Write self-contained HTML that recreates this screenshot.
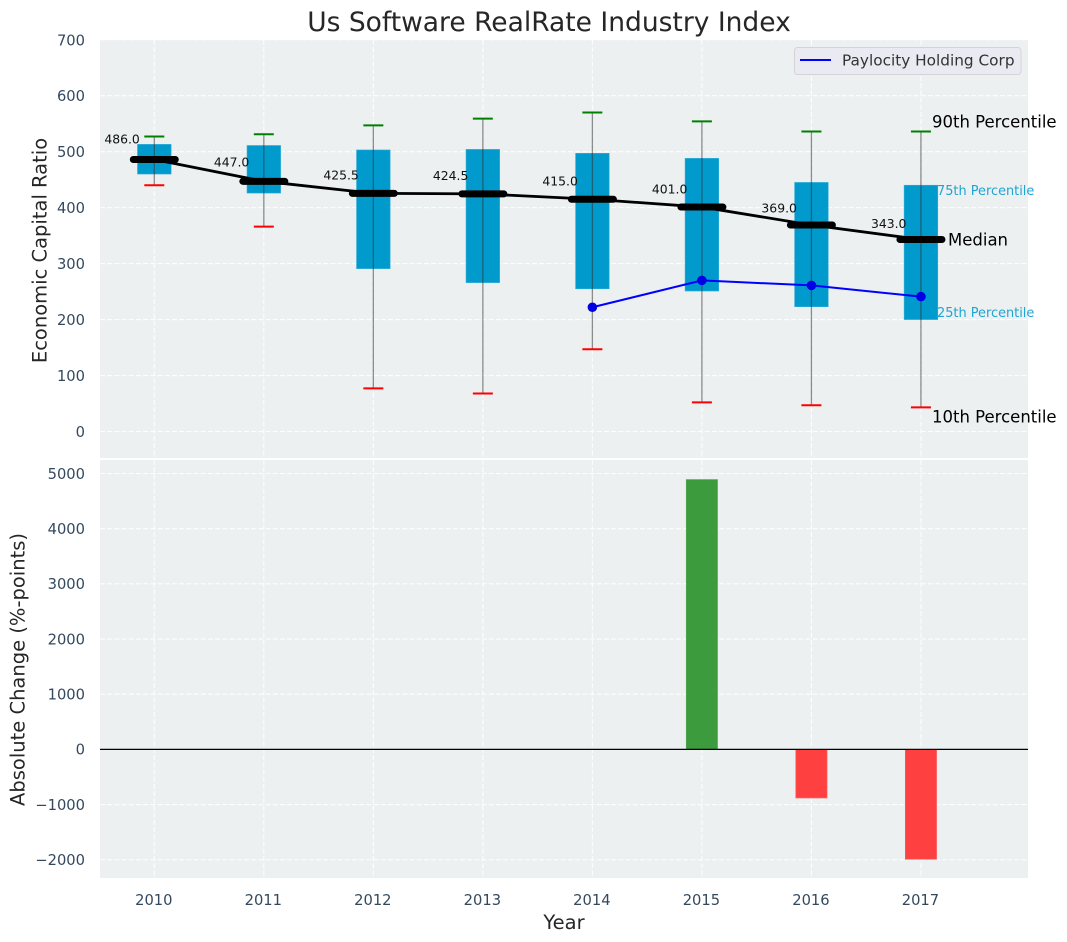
<!DOCTYPE html>
<html>
<head>
<meta charset="utf-8">
<title>Us Software RealRate Industry Index</title>
<style>
html,body{margin:0;padding:0;background:#fff;}
svg{display:block;font-family:"DejaVu Sans","Liberation Sans",sans-serif;}
</style>
</head>
<body>
<svg id="chart" width="1067" height="942" viewBox="0 0 1067 942" xmlns="http://www.w3.org/2000/svg"></svg>
<script>
const years = [2010, 2011, 2012, 2013, 2014, 2015, 2016, 2017];
const p90 = [527, 531, 547, 559, 570, 554, 536, 536];
const p75 = [513, 511, 503, 504, 497, 488, 445, 440];
const median = [486, 447, 425.5, 424.5, 415, 401, 369, 343];
const p25 = [460, 426, 291, 266, 255, 251, 223, 200];
const p10 = [440, 366, 77, 68, 147, 52, 47, 43];
const companyYears = [2014, 2015, 2016, 2017];
const companyValues = [222, 270, 261, 241];
const changeYears = [2015, 2016, 2017];
const changeValues = [4890, -880, -1990];
const topTicks = [0, 100, 200, 300, 400, 500, 600, 700];
const bottomTicks = [-2000, -1000, 0, 1000, 2000, 3000, 4000, 5000];

const svg = document.getElementById('chart');
const NS = 'http://www.w3.org/2000/svg';
function add(tag, attrs, text, parent) {
  const el = document.createElementNS(NS, tag);
  for (const k in attrs) el.setAttribute(k, attrs[k]);
  if (text !== undefined && text !== null) el.textContent = text;
  (parent || svg).appendChild(el);
  return el;
}
function x(year) { return 154.3 + (year - 2010) * 109.52; }
function yTop(v) { return 431.5 - v * 0.5597; }
function yBot(v) { return 749.4 - v * 0.05518; }

const INK = '#34495e';
const AX_L = 100, AX_R = 1028;

/* panels */
const topPanel = add('rect', {x: AX_L, y: 40, width: AX_R - AX_L, height: 418, fill: '#ecf0f1'});


const botPanel = add('rect', {x: AX_L, y: 460, width: AX_R - AX_L, height: 418, fill: '#ecf0f1'});



/* grid */
const grid = {stroke: '#ffffff', 'stroke-width': 1.1, 'stroke-dasharray': '5 2.2', opacity: 0.9};
years.forEach(function (yr) {
  const a = add('line', Object.assign({x1: x(yr), x2: x(yr), y1: 40, y2: 458}, grid));
  
  
  const b = add('line', Object.assign({x1: x(yr), x2: x(yr), y1: 460, y2: 878}, grid));
  
  
  const t = add('text', {x: x(yr) - 0.5, y: 905, 'text-anchor': 'middle', 'font-size': 14.7, fill: INK}, String(yr));
  
  
});
topTicks.forEach(function (v) {
  const l = add('line', Object.assign({x1: AX_L, x2: AX_R, y1: yTop(v), y2: yTop(v)}, grid));
  
  
  const t = add('text', {x: 85, y: Math.max(yTop(v), 40) + 5.3, 'text-anchor': 'end', 'font-size': 14.7, fill: INK}, String(v));
  
  
});
bottomTicks.forEach(function (v) {
  const l = add('line', Object.assign({x1: AX_L, x2: AX_R, y1: yBot(v), y2: yBot(v)}, grid));
  
  
  const label = v < 0 ? '\u2212' + Math.abs(v) : String(v);
  const t = add('text', {x: 85, y: yBot(v) + 5.3, 'text-anchor': 'end', 'font-size': 14.7, fill: INK}, label);
  
  
});

/* percentile boxes */
years.forEach(function (yr, i) {
  const box = add('rect', {
    x: x(yr) - 16.8, y: yTop(p75[i]), width: 33.6, height: yTop(p25[i]) - yTop(p75[i]),
    fill: '#009ACD', stroke: '#33aed7', 'stroke-width': 0.6
  });
  
  
  const w = add('line', {x1: x(yr), x2: x(yr), y1: yTop(p90[i]), y2: yTop(p10[i]), stroke: '#333', 'stroke-opacity': 0.55, 'stroke-width': 1.3});
  
  
  const c1 = add('line', {x1: x(yr) - 10, x2: x(yr) + 10, y1: yTop(p90[i]), y2: yTop(p90[i]), stroke: '#008000', 'stroke-width': 2});
  
  
  const c2 = add('line', {x1: x(yr) - 10, x2: x(yr) + 10, y1: yTop(p10[i]), y2: yTop(p10[i]), stroke: '#ff0000', 'stroke-width': 2});
  
  
});

/* median line */
const medLine = add('polyline', {
  points: years.map(function (yr, i) { return x(yr) + ',' + yTop(median[i]); }).join(' '),
  fill: 'none', stroke: '#000', 'stroke-width': 2.8
});


years.forEach(function (yr, i) {
  const m = add('line', {x1: x(yr) - 21, x2: x(yr) + 21, y1: yTop(median[i]), y2: yTop(median[i]), stroke: '#000', 'stroke-width': 7, 'stroke-linecap': 'round'});
  
  
  const t = add('text', {x: x(yr) - 14.5, y: yTop(median[i] * 1.05 + 11) + 4, 'text-anchor': 'end', 'font-size': 12.4, fill: '#111'}, median[i].toFixed(1));
  
  
});

/* company series */
const compLine = add('polyline', {
  points: companyYears.map(function (yr, i) { return x(yr) + ',' + yTop(companyValues[i]); }).join(' '),
  fill: 'none', stroke: '#0000ff', 'stroke-width': 2
});


companyYears.forEach(function (yr, i) {
  const p = add('circle', {cx: x(yr), cy: yTop(companyValues[i]), r: 4.8, fill: '#0000e6'});
  
  
});

/* change bars */
changeYears.forEach(function (yr, i) {
  const v = changeValues[i];
  const top = Math.min(yBot(v), yBot(0));
  const h = Math.abs(yBot(v) - yBot(0));
  const b = add('rect', {
    x: x(yr) - 15.6, y: top, width: 31.2, height: h,
    fill: v >= 0 ? '#3c9b3c' : '#ff4040',
    stroke: v >= 0 ? '#55a855' : '#ff5c5c', 'stroke-width': 0.7
  });
  
  
});
const zero = add('line', {x1: AX_L, x2: AX_R, y1: yBot(0), y2: yBot(0), stroke: '#000', 'stroke-width': 1.2});



/* percentile annotations for the last box */
const last = years.length - 1;
const a90 = add('text', {x: 932, y: yTop(p90[last]) - 4, 'font-size': 16.5, fill: '#000'}, '90th Percentile');


const a75 = add('text', {x: 937, y: yTop(p75[last]) + 10, 'font-size': 12.9, fill: '#1fa5d2'}, '75th Percentile');


const aMed = add('text', {x: 948, y: yTop(median[last]) + 6, 'font-size': 16.5, fill: '#000'}, 'Median');


const a25 = add('text', {x: 937, y: yTop(p25[last]) - 2.5, 'font-size': 12.9, fill: '#1fa5d2'}, '25th Percentile');


const a10 = add('text', {x: 932, y: yTop(p10[last]) + 15, 'font-size': 16.5, fill: '#000'}, '10th Percentile');



/* legend */
const legend = add('g', {});


add('rect', {x: 794.5, y: 47.5, width: 226.5, height: 27, rx: 3, fill: '#eaeaf2', stroke: '#d4d4d8', 'stroke-width': 1}, null, legend);
const legLine = add('line', {x1: 800, x2: 831, y1: 60, y2: 60, stroke: '#0000ff', 'stroke-width': 2}, null, legend);


const legText = add('text', {x: 842, y: 65.5, 'font-size': 15.3, fill: '#333'}, 'Paylocity Holding Corp', legend);



/* titles */
const title = add('text', {x: 549, y: 31, 'text-anchor': 'middle', 'font-size': 26.5, fill: '#262626'}, 'Us Software RealRate Industry Index');


const yt1 = add('text', {transform: 'translate(46.5 250.5) rotate(-90)', 'text-anchor': 'middle', 'font-size': 19.5, fill: '#262626'}, 'Economic Capital Ratio');


const yt2 = add('text', {transform: 'translate(24.5 669.5) rotate(-90)', 'text-anchor': 'middle', 'font-size': 19.5, fill: '#262626'}, 'Absolute Change (%-points)');


const xt = add('text', {x: 564, y: 929, 'text-anchor': 'middle', 'font-size': 19.5, fill: '#262626'}, 'Year');


</script>
</body>
</html>
